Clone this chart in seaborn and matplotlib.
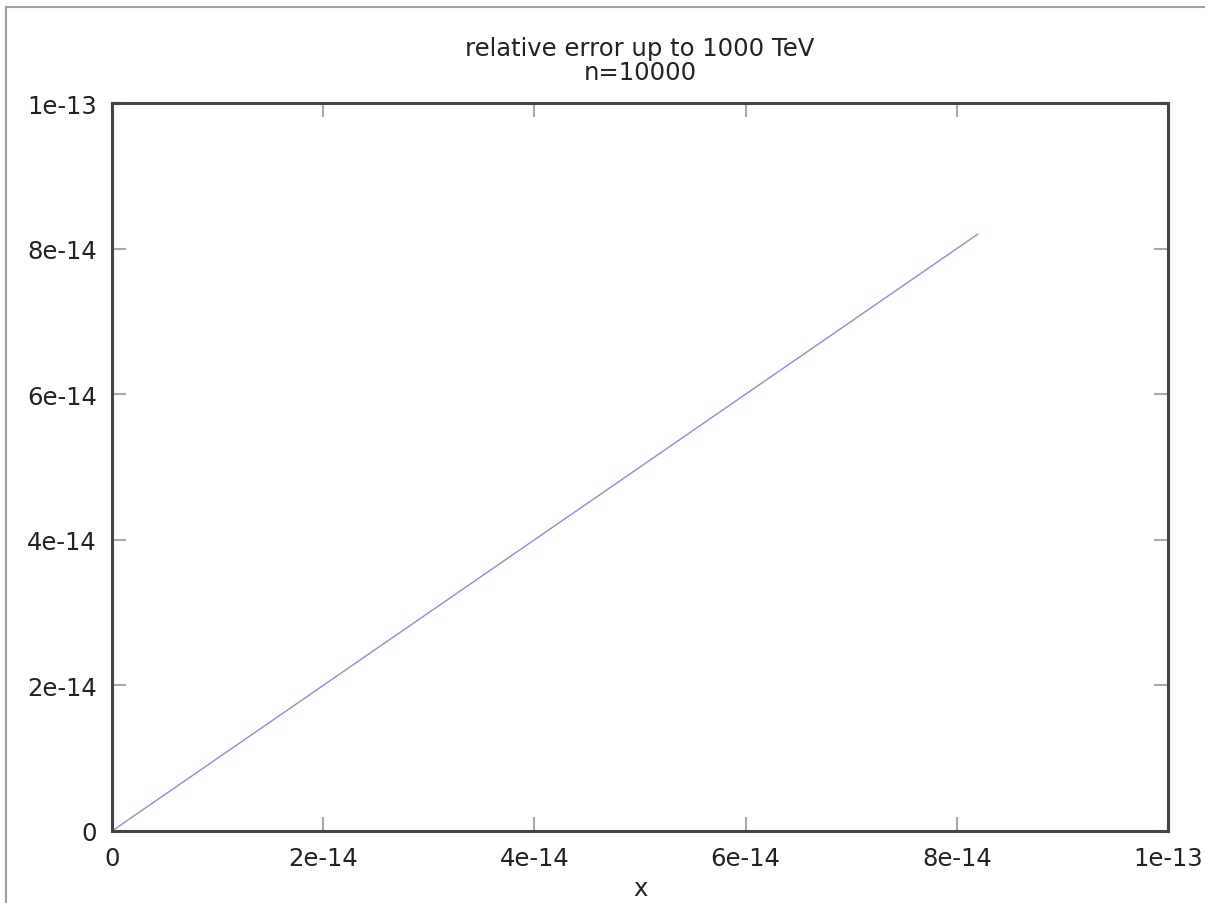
"""Relative error line plot, gnuplot look."""

import matplotlib

matplotlib.use("Agg")

import matplotlib.pyplot as plt
import pandas as pd
import seaborn as sns
from matplotlib.lines import Line2D

# data
x_values = [0.0, 8.2e-14]
error_values = [0.0, 8.2e-14]
tick_values = [0.0, 2e-14, 4e-14, 6e-14, 8e-14, 1e-13]
tick_labels = ["0", "2e-14", "4e-14", "6e-14", "8e-14", "1e-13"]
title_text = "relative error up to 1000 TeV\nn=10000"

sns.set_theme(style="white")
plt.rcParams["font.family"] = ["DejaVu Sans"]

frame = pd.DataFrame({"x": x_values, "err": error_values})

fig = plt.figure(figsize=(12.05, 9.04), dpi=100)
ax = fig.add_axes([112 / 1205, 72 / 904, 1056 / 1205, 728 / 904])

sns.lineplot(data=frame, x="x", y="err", ax=ax, color="#8c8ce2", linewidth=1.0)

ax.set_xlim(0, 1e-13)
ax.set_ylim(0, 1e-13)
ax.set_xticks(tick_values, tick_labels)
ax.set_yticks(tick_values, tick_labels)
ax.tick_params(
    axis="both", direction="in", length=10, width=1.5, color="#a8a8a8",
    labelsize=17.5, labelcolor="#222222", pad=11,
    top=True, right=True, bottom=True, left=True,
)
for spine in ax.spines.values():
    spine.set_color("#444444")
    spine.set_linewidth(2.2)
ax.set_xlabel("x", fontsize=17.5, color="#222222", labelpad=4)
ax.set_ylabel("")
ax.set_title(title_text, fontsize=17.5, color="#222222", pad=17, linespacing=1.0)

# light image border along the top and left edges
fig.add_artist(Line2D([6 / 1205, 6 / 1205], [0, 1 - 8 / 904], color="#a0a0a0", linewidth=1.5))
fig.add_artist(Line2D([6 / 1205, 1], [1 - 8 / 904, 1 - 8 / 904], color="#a0a0a0", linewidth=1.5))

fig.savefig("out.png", dpi=100)
